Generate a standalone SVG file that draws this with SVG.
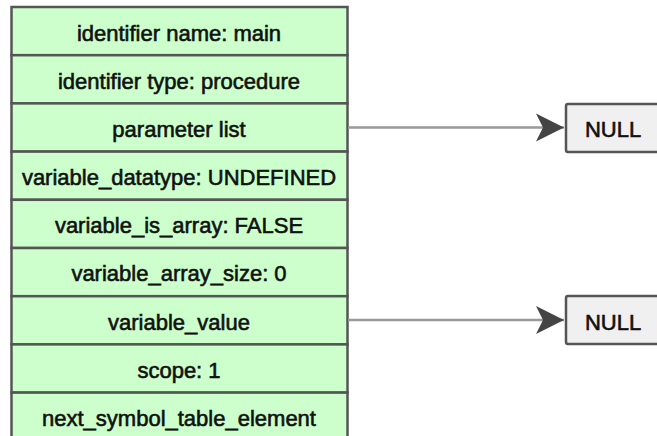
<svg xmlns="http://www.w3.org/2000/svg" width="657" height="436" viewBox="0 0 657 436">
  <style>
    .field { fill: #ccffcc; stroke: #555555; stroke-width: 2.5; }
    .null { fill: #f0f0f0; stroke: #555555; stroke-width: 2.5; }
    .label { font-family: "Liberation Sans", Arial, sans-serif; font-size: 22px; fill: #111111; stroke: #111111; stroke-width: 0.6; text-anchor: middle; }
    .edge { stroke: #999999; stroke-width: 2.5; fill: none; }
  </style>
  <defs>
    <marker id="arrow" markerUnits="userSpaceOnUse" markerWidth="30" markerHeight="30" refX="28" refY="15" orient="auto">
      <path d="M0,1 L28,15 L0,29 L7,15 Z" fill="#444444"/>
    </marker>
  </defs>

  <!-- symbol table element: one record, one row per field -->
  <g id="symbol_table_element">
    <g id="f_identifier_name">
      <rect class="field" x="11.5" y="7" width="336" height="48.2"/>
      <text class="label" x="179" y="41">identifier name: main</text>
    </g>
    <g id="f_identifier_type">
      <rect class="field" x="11.5" y="55.2" width="336" height="48.2"/>
      <text class="label" x="179" y="89">identifier type: procedure</text>
    </g>
    <g id="f_parameter_list">
      <rect class="field" x="11.5" y="103.4" width="336" height="48.2"/>
      <text class="label" x="179" y="137">parameter list</text>
    </g>
    <g id="f_variable_datatype">
      <rect class="field" x="11.5" y="151.6" width="336" height="48.2"/>
      <text class="label" x="179" y="185">variable_datatype: UNDEFINED</text>
    </g>
    <g id="f_variable_is_array">
      <rect class="field" x="11.5" y="199.8" width="336" height="48.2"/>
      <text class="label" x="179" y="233">variable_is_array: FALSE</text>
    </g>
    <g id="f_variable_array_size">
      <rect class="field" x="11.5" y="248" width="336" height="48.2"/>
      <text class="label" x="179" y="281">variable_array_size: 0</text>
    </g>
    <g id="f_variable_value">
      <rect class="field" x="11.5" y="296.2" width="336" height="48.2"/>
      <text class="label" x="179" y="330">variable_value</text>
    </g>
    <g id="f_scope">
      <rect class="field" x="11.5" y="344.4" width="336" height="48.2"/>
      <text class="label" x="179" y="378">scope: 1</text>
    </g>
    <g id="f_next_symbol_table_element">
      <rect class="field" x="11.5" y="392.6" width="336" height="48.2"/>
      <text class="label" x="179" y="426">next_symbol_table_element</text>
    </g>
  </g>

  <!-- null targets -->
  <g id="null_parameters">
    <rect class="null" x="566" y="104" width="96" height="48" rx="2"/>
    <text class="label" x="613" y="137">NULL</text>
  </g>
  <g id="null_value">
    <rect class="null" x="566" y="296" width="96" height="48" rx="2"/>
    <text class="label" x="613" y="330">NULL</text>
  </g>

  <!-- pointers -->
  <g id="connectors">
    <line class="edge" x1="348" y1="127.5" x2="564" y2="127.5" marker-end="url(#arrow)"/>
    <line class="edge" x1="348" y1="320" x2="564" y2="320" marker-end="url(#arrow)"/>
  </g>
</svg>
